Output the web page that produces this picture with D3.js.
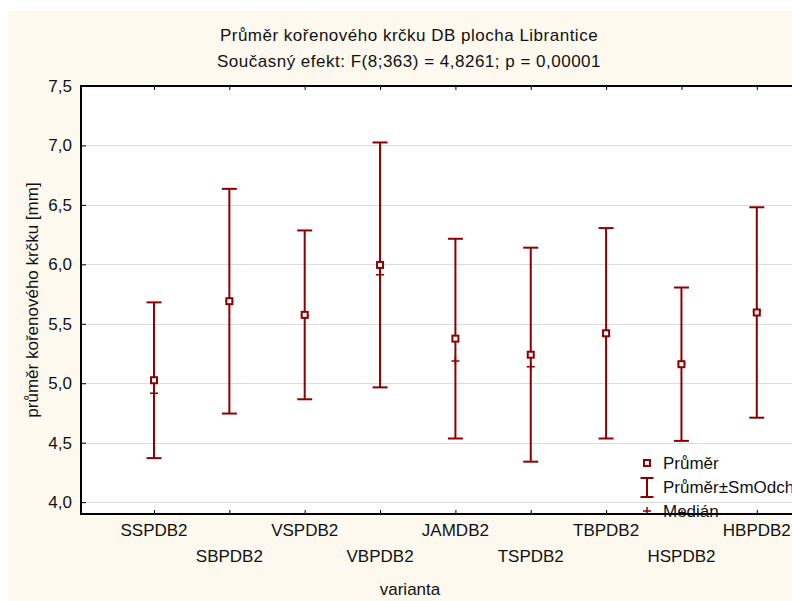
<!DOCTYPE html>
<html>
<head>
<meta charset="utf-8">
<script src="https://cdn.jsdelivr.net/npm/d3@7/dist/d3.min.js"></script>
<style>
  body { margin: 0; background: #ffffff; }
  text { font-family: "Liberation Sans", Arial, sans-serif; fill: #111; }
</style>
</head>
<body>
<svg id="chart" width="792" height="601"></svg>
<script>
// Kořenový krček – průměr ± směrodatná odchylka a medián podle varianty
const categories = ["SSPDB2", "SBPDB2", "VSPDB2", "VBPDB2", "JAMDB2", "TSPDB2", "TBPDB2", "HSPDB2", "HBPDB2"];
const means   = [5.025, 5.69, 5.575, 5.995, 5.375, 5.24, 5.42, 5.16, 5.595];
const sds     = [0.655, 0.945, 0.71, 1.03, 0.84, 0.90, 0.885, 0.645, 0.885];
const medians = [4.915, 5.69, 5.57, 5.913, 5.187, 5.139, 5.40, 5.165, 5.605];
const yTicks  = [4.0, 4.5, 5.0, 5.5, 6.0, 6.5, 7.0, 7.5];

const title = "Průměr kořenového krčku DB plocha Librantice";
const subtitle = "Současný efekt: F(8;363) = 4,8261; p = 0,00001";
const yTitle = "průměr kořenového krčku [mm]";
const xTitle = "varianta";
const legendLabels = ["Průměr", "Průměr±SmOdch", "Medián"];

const W = 792, H = 601;
const frame = { left: 81, top: 86, right: 797, bottom: 514 };
const markColor = "#8b0000";
const fontSize = 17;

const svg = d3.select("#chart");

// panel background
svg.append("rect").attr("x", 8).attr("y", 11).attr("width", W - 8).attr("height", H - 11)
  .attr("fill", "#fef9ee");
svg.append("rect").attr("x", frame.left).attr("y", frame.top)
  .attr("width", frame.right - frame.left).attr("height", frame.bottom - frame.top)
  .attr("fill", "#ffffff");

const y = d3.scaleLinear().domain([3.9, 7.5]).range([frame.bottom, frame.top]);
const x = d3.scaleLinear().domain([0, categories.length - 1]).range([154, 756.8]);

// horizontal grid
svg.append("g").selectAll("line").data(yTicks).join("line")
  .attr("x1", frame.left).attr("x2", frame.right)
  .attr("y1", d => Math.round(y(d)) + 0.5).attr("y2", d => Math.round(y(d)) + 0.5)
  .attr("stroke", "#dcdcdc").attr("stroke-width", 1);

// y axis labels and inward ticks (left and right)
const fmt = d => d3.format(".1f")(d).replace(".", ",");
const yAxisL = d3.axisLeft(y).tickValues(yTicks).tickSize(-5).tickPadding(9).tickFormat(fmt);
const gyL = svg.append("g").attr("transform", `translate(${frame.left},0)`).call(yAxisL);
gyL.select(".domain").remove();
gyL.selectAll("line").attr("stroke", "#000");
gyL.selectAll("text").attr("font-size", fontSize).attr("font-family", "Liberation Sans, Arial, sans-serif").attr("fill", "#111");

const yAxisR = d3.axisRight(y).tickValues(yTicks).tickSize(-5).tickFormat("");
const gyR = svg.append("g").attr("transform", `translate(${frame.right},0)`).call(yAxisR);
gyR.select(".domain").remove();
gyR.selectAll("line").attr("stroke", "#000");

// x axis: inward ticks on bottom and top, staggered category labels
const idx = d3.range(categories.length);
const xAxisB = d3.axisBottom(x).tickValues(idx).tickSize(-4).tickFormat("");
const gxB = svg.append("g").attr("transform", `translate(0,${frame.bottom})`).call(xAxisB);
gxB.select(".domain").remove();
gxB.selectAll("line").attr("stroke", "#000");
const xAxisT = d3.axisTop(x).tickValues(idx).tickSize(-4).tickFormat("");
const gxT = svg.append("g").attr("transform", `translate(0,${frame.top})`).call(xAxisT);
gxT.select(".domain").remove();
gxT.selectAll("line").attr("stroke", "#000");

svg.append("g").selectAll("text").data(categories).join("text")
  .attr("x", (d, i) => x(i))
  .attr("y", (d, i) => i % 2 === 0 ? 536 : 562)
  .attr("text-anchor", "middle").attr("font-size", fontSize)
  .text(d => d);

// error bars: mean ± SD
const capW = 7.5;
const bars = svg.append("g").selectAll("g").data(idx).join("g");
bars.append("line")
  .attr("x1", i => x(i)).attr("x2", i => x(i))
  .attr("y1", i => y(means[i] + sds[i])).attr("y2", i => y(means[i] - sds[i]))
  .attr("stroke", markColor).attr("stroke-width", 2);
bars.append("line")
  .attr("x1", i => x(i) - capW).attr("x2", i => x(i) + capW)
  .attr("y1", i => y(means[i] + sds[i])).attr("y2", i => y(means[i] + sds[i]))
  .attr("stroke", markColor).attr("stroke-width", 2);
bars.append("line")
  .attr("x1", i => x(i) - capW).attr("x2", i => x(i) + capW)
  .attr("y1", i => y(means[i] - sds[i])).attr("y2", i => y(means[i] - sds[i]))
  .attr("stroke", markColor).attr("stroke-width", 2);

// medians (+)
const plus = 4;
bars.append("path")
  .attr("d", i => {
    const cx = x(i), cy = y(medians[i]);
    return `M${cx - plus},${cy}H${cx + plus}M${cx},${cy - plus}V${cy + plus}`;
  })
  .attr("stroke", markColor).attr("stroke-width", 1.5).attr("fill", "none");

// means (open squares)
const sq = 6;
bars.append("rect")
  .attr("x", i => x(i) - sq / 2).attr("y", i => y(means[i]) - sq / 2)
  .attr("width", sq).attr("height", sq)
  .attr("fill", "#ffffff").attr("stroke", markColor).attr("stroke-width", 2);

// legend
const lg = svg.append("g");
const lx = 647, tx = 663;
lg.append("rect").attr("x", lx - 3).attr("y", 460).attr("width", 6).attr("height", 6)
  .attr("fill", "#fff").attr("stroke", markColor).attr("stroke-width", 2);
lg.append("path").attr("d", `M${lx - 6.5},478H${lx + 6.5}M${lx},478V497M${lx - 6.5},497H${lx + 6.5}`)
  .attr("stroke", markColor).attr("stroke-width", 2).attr("fill", "none");
lg.append("path").attr("d", `M${lx - 4},511H${lx + 4}M${lx},507V515`)
  .attr("stroke", markColor).attr("stroke-width", 1.5).attr("fill", "none");
lg.selectAll("text").data(legendLabels).join("text")
  .attr("x", tx).attr("y", (d, i) => [469, 493, 517][i])
  .attr("font-size", fontSize).text(d => d);

// frame (left, top, bottom)
svg.append("path")
  .attr("d", `M${frame.right},${frame.top}H${frame.left}V${frame.bottom}H${frame.right}`)
  .attr("stroke", "#000").attr("stroke-width", 2).attr("fill", "none");

// titles
svg.append("text").attr("x", 409).attr("y", 41).attr("text-anchor", "middle")
  .attr("font-size", fontSize).attr("letter-spacing", 0.5).text(title);
svg.append("text").attr("x", 409).attr("y", 67).attr("text-anchor", "middle")
  .attr("font-size", fontSize).attr("letter-spacing", 0.5).text(subtitle);
svg.append("text").attr("transform", "translate(38,300) rotate(-90)")
  .attr("text-anchor", "middle").attr("font-size", fontSize).text(yTitle);
svg.append("text").attr("x", 410).attr("y", 595).attr("text-anchor", "middle")
  .attr("font-size", fontSize).text(xTitle);
</script>
</body>
</html>
